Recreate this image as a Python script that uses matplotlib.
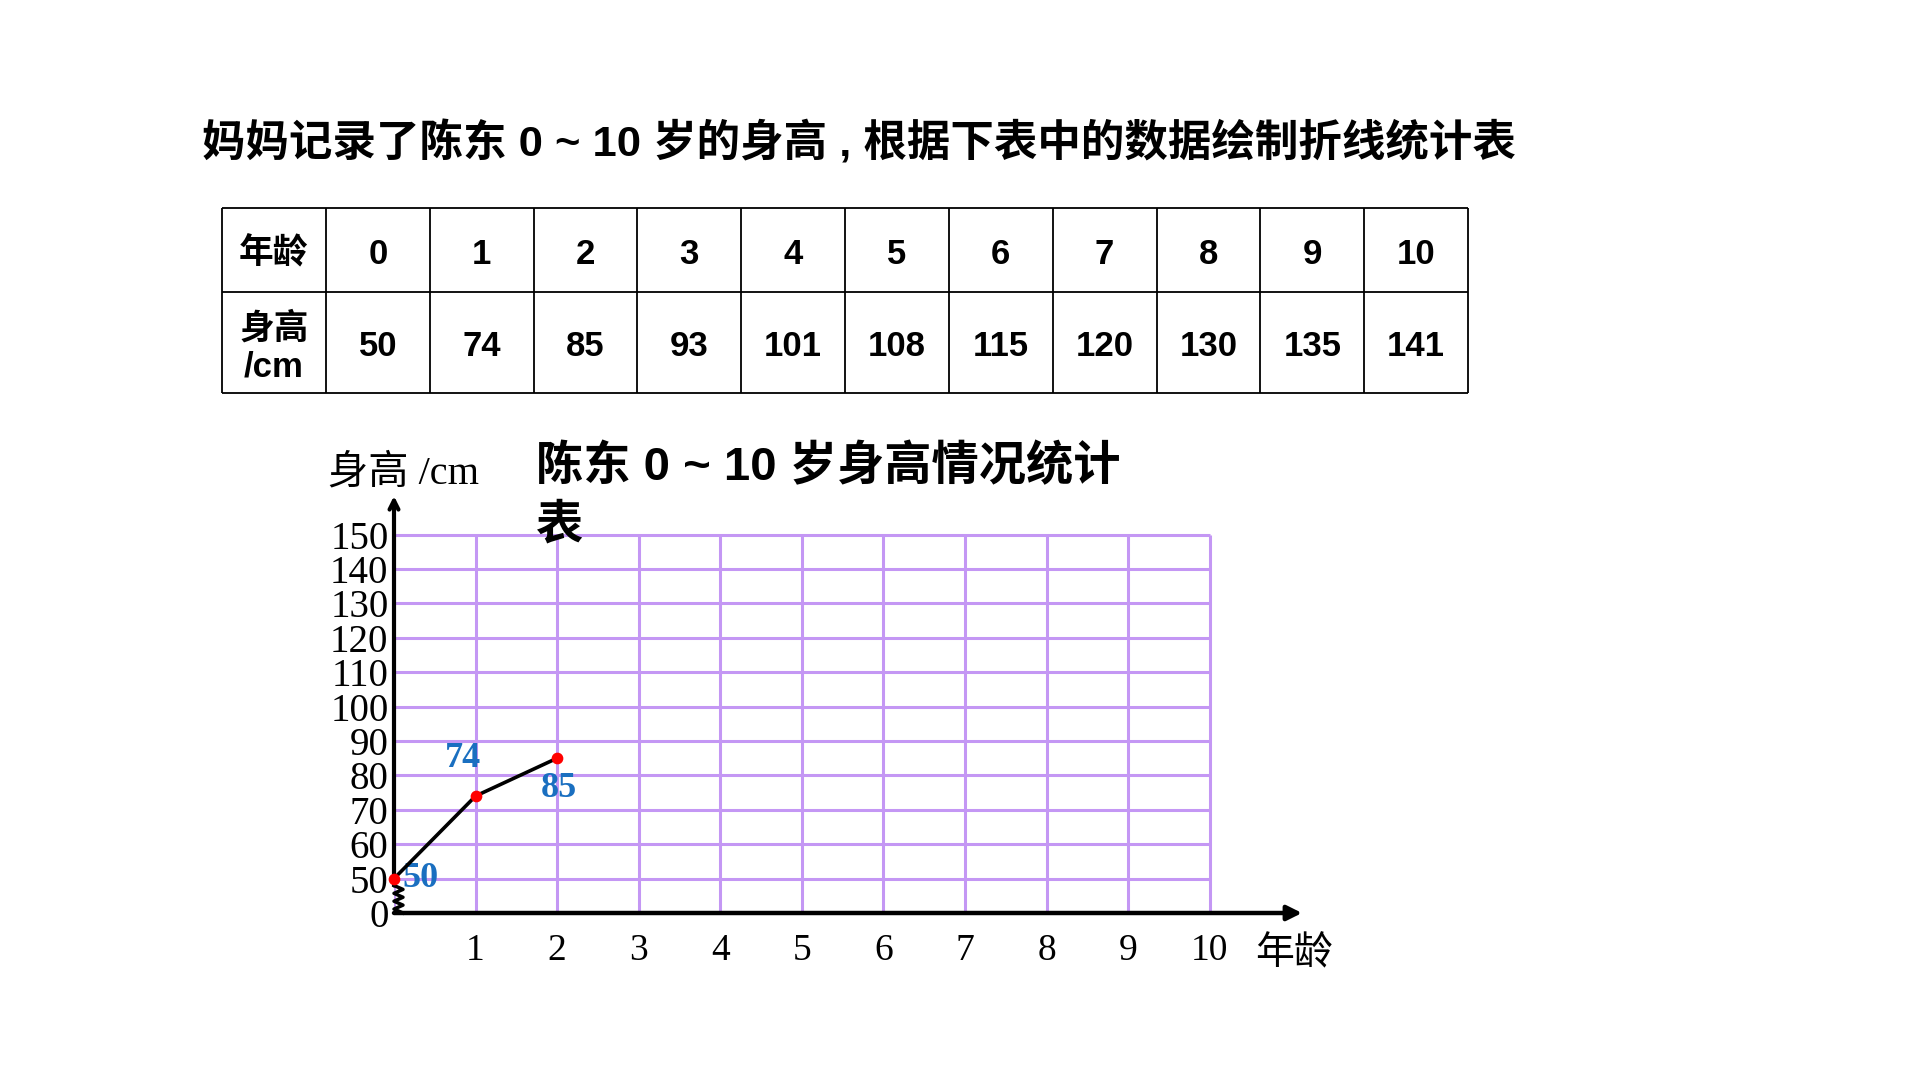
import numpy as np
import matplotlib
matplotlib.use("Agg")
import matplotlib.pyplot as plt

# data from the slide
ages = [0, 1, 2, 3, 4, 5, 6, 7, 8, 9, 10]
heights = [50, 74, 85, 93, 101, 108, 115, 120, 130, 135, 141]
n_drawn = 3  # only the first three points are drawn on the chart
y_ticks = [50, 60, 70, 80, 90, 100, 110, 120, 130, 140, 150]

title = "妈妈记录了陈东 0 ~ 10 岁的身高 , 根据下表中的数据绘制折线统计表"
chart_title = "陈东 0 ~ 10 岁身高情况统计\n表"

SANS = ["Liberation Sans", "Noto Sans CJK SC"]
SERIF = ["Liberation Serif", "Noto Sans CJK SC"]
PURPLE = "#c497f4"
BLUE = "#1a6fc0"

W, H = 1920, 1080
fig = plt.figure(figsize=(19.2, 10.8), dpi=100)
fig.patch.set_facecolor("white")

fig.text(202/W, 1-143/H, title, family=SANS, weight="bold", fontsize=31.3,
         ha="left", va="center")

# table
tax = fig.add_axes([222/W, 1-393/H, (1468-222)/W, (393-208)/H])
tax.set_xlim(0, 12)
tax.set_ylim(0, 185)
tax.axis("off")
tax.hlines([0, 101, 185], 0, 12, color="black", lw=1.3, clip_on=False)
tax.vlines(range(13), 0, 185, color="black", lw=1.3, clip_on=False)
tax.text(0.5, 139, "年龄", family=SANS, weight="bold", fontsize=25, ha="center", va="center")
tax.text(0.5, 45, "身高\n/cm", family=SANS, weight="bold", fontsize=25, ha="center",
         va="center", linespacing=1.2)
for i, (a, h) in enumerate(zip(ages, heights)):
    tax.text(i+1.5, 139, str(a), family=SANS, weight="bold", fontsize=25, ha="center", va="center")
    tax.text(i+1.5, 46, str(h), family=SANS, weight="bold", fontsize=25, ha="center", va="center")

# chart
ax = fig.add_axes([394/W, 1-913/H, (1302-394)/W, (913-496)/H])
ax.set_xlim(0, 11.13)
ax.set_ylim(40, 161.2)
for s in ax.spines.values():
    s.set_visible(False)

ax.hlines(y_ticks, 0, 10, color=PURPLE, lw=2.2, zorder=1)
ax.vlines(ages, 40, 150, color=PURPLE, lw=2.2, zorder=1)

# axes with arrows and the break mark
ax.annotate("", xy=(0, 161.2), xytext=(0, 48),
            arrowprops=dict(arrowstyle="->", lw=3, color="black", mutation_scale=16,
                            shrinkA=0, shrinkB=0), annotation_clip=False)
zz_y = np.linspace(48, 40, 8)
zz_x = np.tile([0, 0.11], 4)
ax.plot(zz_x, zz_y, color="black", lw=2.5, clip_on=False, zorder=3)
ax.annotate("", xy=(11.13, 40), xytext=(0, 40),
            arrowprops=dict(arrowstyle="-|>", lw=3.2, color="black", mutation_scale=22,
                            shrinkA=0, shrinkB=0), annotation_clip=False)

ax.set_xticks(ages[1:])
ax.set_xticklabels([str(a) for a in ages[1:]], family=SERIF, fontsize=27)
ax.set_yticks([40] + y_ticks)
ax.set_yticklabels(["0"] + [str(v) for v in y_ticks], family=SERIF, fontsize=28)
ax.tick_params(axis="x", length=0, pad=15)
ax.tick_params(axis="y", length=0, pad=4)

ax.plot(ages[:n_drawn], heights[:n_drawn], color="black", lw=2.6, zorder=4, clip_on=False)
ax.scatter(ages[:n_drawn], heights[:n_drawn], color="red", s=55, zorder=5, clip_on=False)
offsets = [(6, 0, "left"), (-9, 27, "center"), (1, -22, "center")]
for a, h, (dx, dy, ha) in zip(ages[:n_drawn], heights[:n_drawn], offsets):
    ax.annotate(str(h), (a, h), xytext=(dx, dy), textcoords="offset points",
                ha=ha, va="center", color=BLUE, family=SERIF, weight="bold", fontsize=26)

fig.text(403/W, 1-474/H, "身高 /cm", family=SERIF, fontsize=29, ha="center", va="center")
fig.text(1294/W, 1-955/H, "年龄", family=SERIF, fontsize=28, ha="center", va="center")
fig.text(536/W, 1-497/H, chart_title, family=SANS, weight="bold", fontsize=34,
         ha="left", va="center", linespacing=1.4)

fig.savefig("out.png", dpi=100)
